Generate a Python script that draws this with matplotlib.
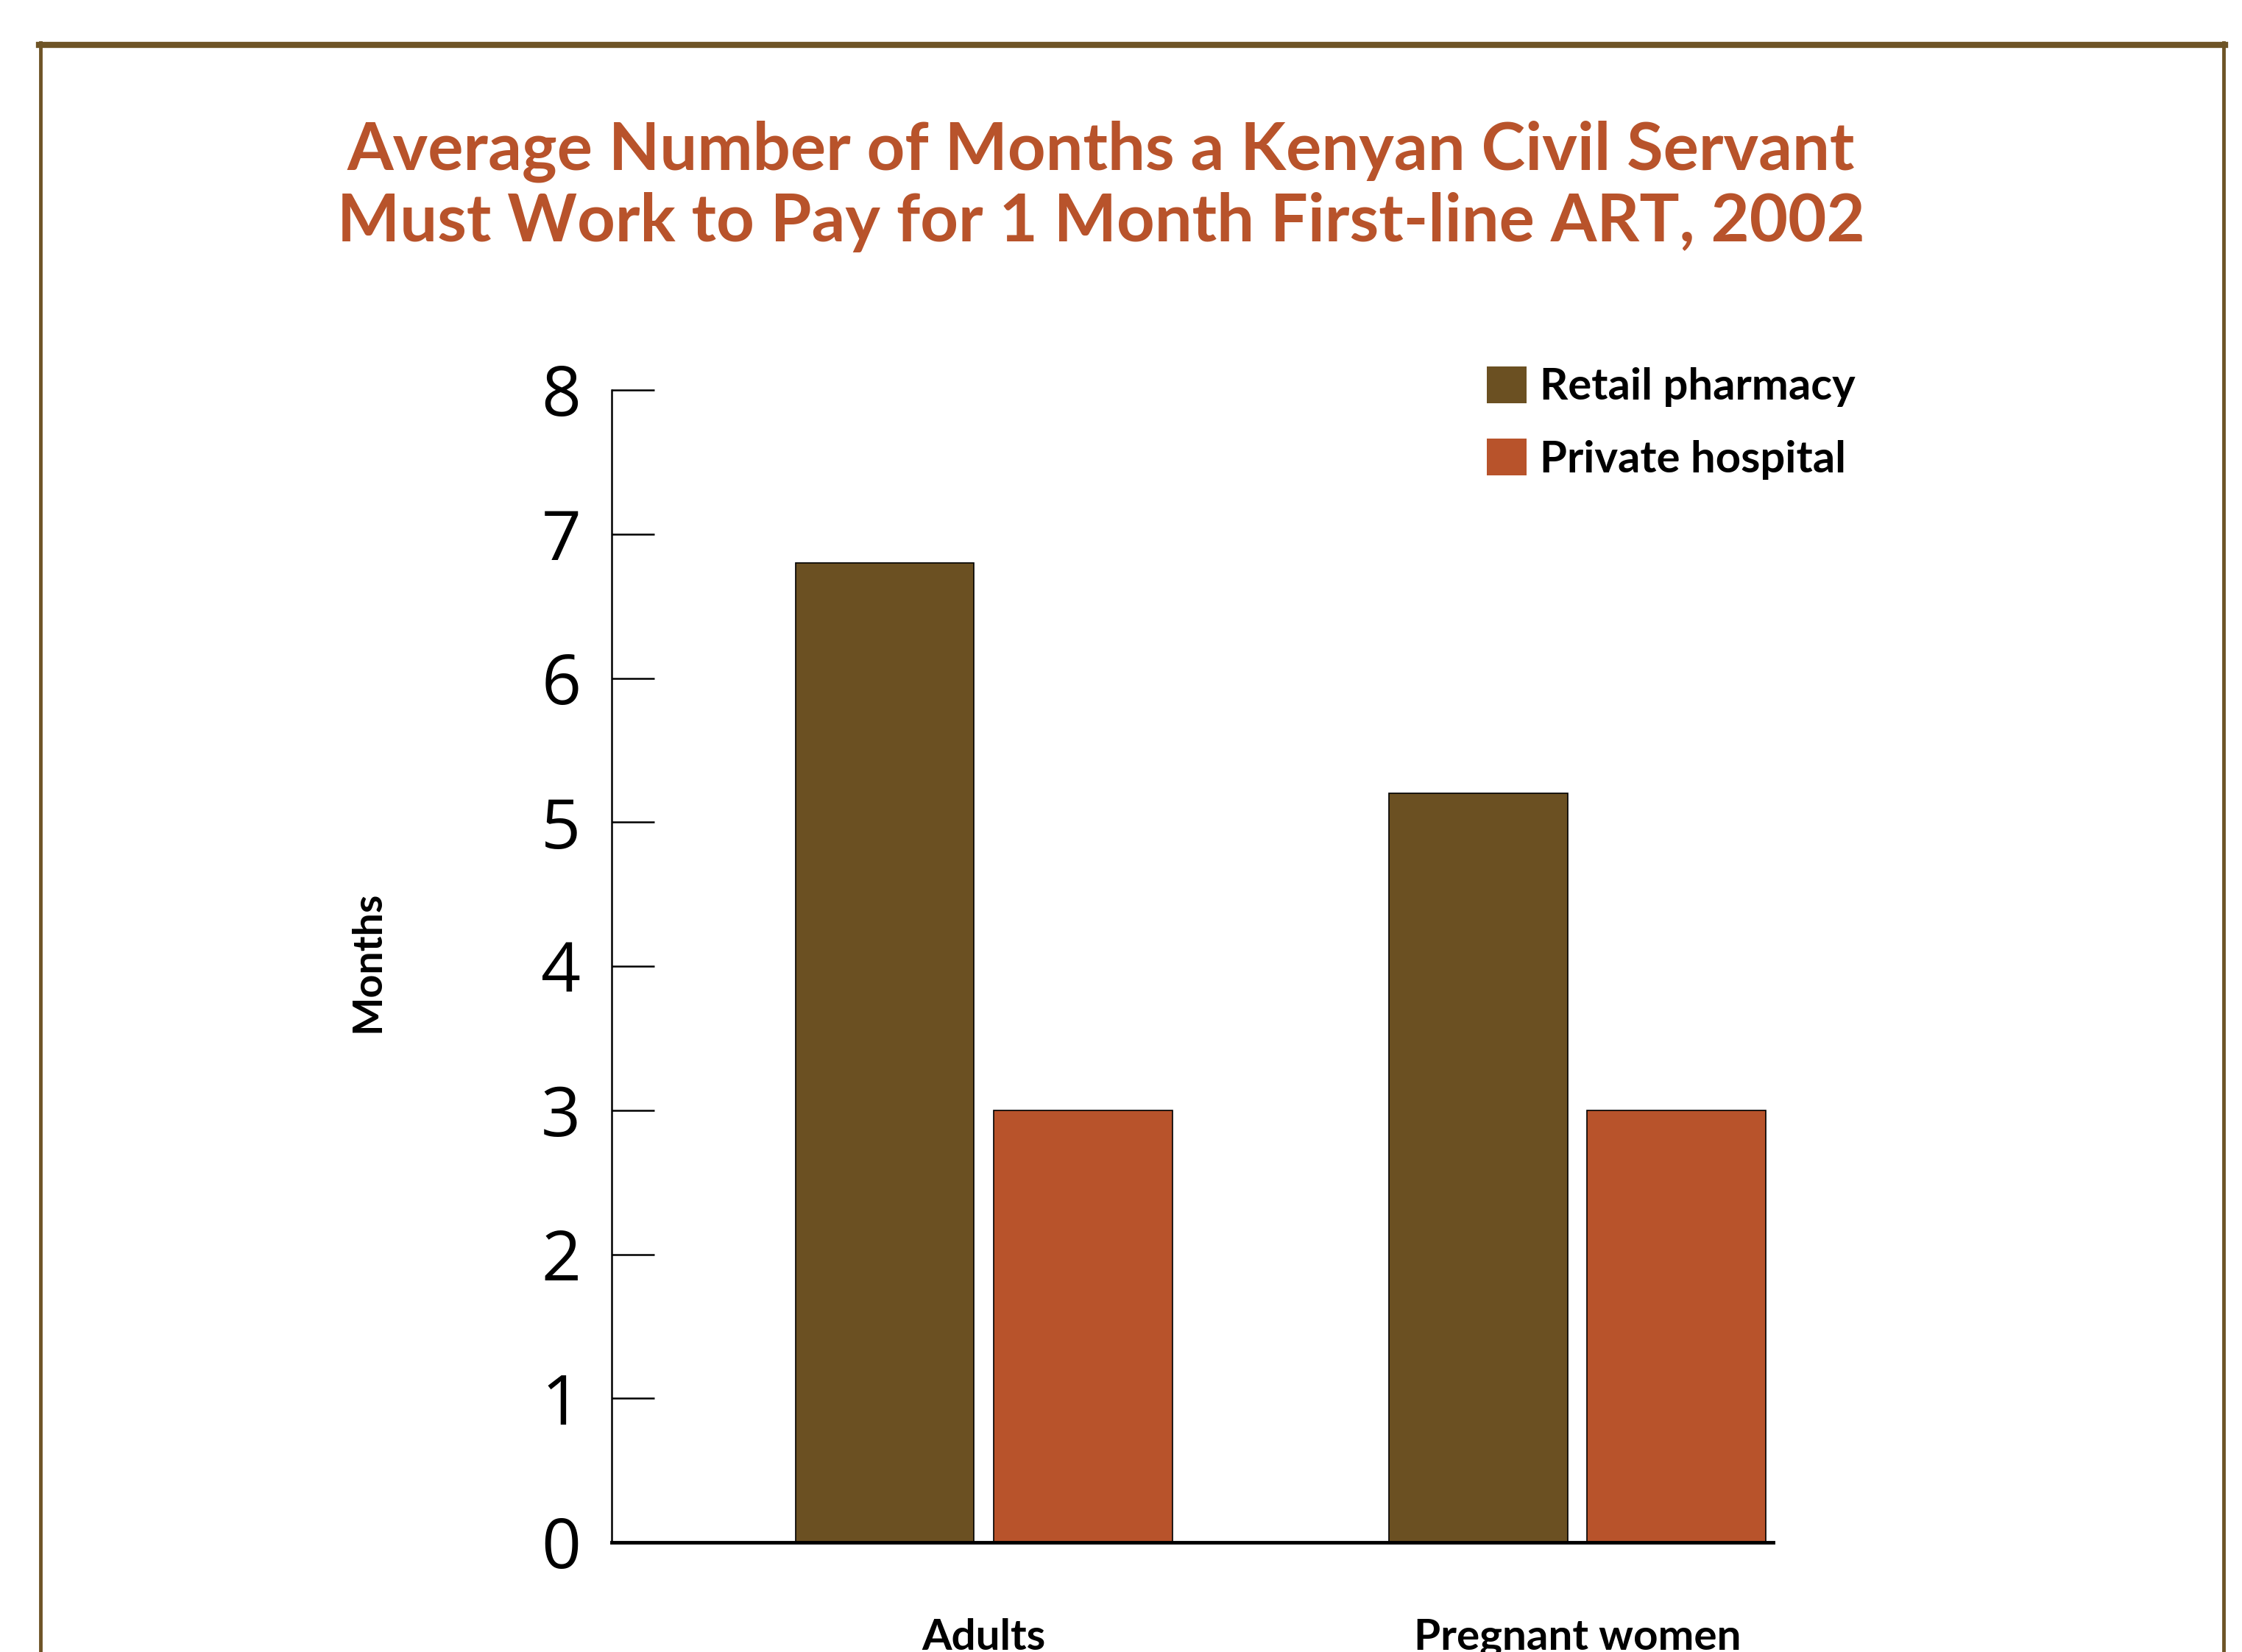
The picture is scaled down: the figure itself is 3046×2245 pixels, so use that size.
import matplotlib
matplotlib.use("Agg")
import matplotlib.pyplot as plt
import numpy as np
from matplotlib.lines import Line2D

categories = ["Adults", "Pregnant women"]
series_names = ["Retail pharmacy", "Private hospital"]
retail = [6.8, 5.2]
private = [3.0, 3.0]
yticks = [0, 1, 2, 3, 4, 5, 6, 7, 8]
title = "Average Number of Months a Kenyan Civil Servant\nMust Work to Pay for 1 Month First-line ART, 2002"

C_RETAIL = "#6B5022"
C_PRIVATE = "#B8532B"
C_BORDER = "#6E5426"
C_TITLE = "#B8532B"

W, H = 3046, 2245
fig = plt.figure(figsize=(W / 100, H / 100), dpi=100)
fig.patch.set_facecolor("white")

# frame border
fig.add_artist(Line2D([53 / W, 3023 / W], [1 - 61 / H, 1 - 61 / H], color=C_BORDER, lw=6, transform=fig.transFigure))
fig.add_artist(Line2D([55.5 / W, 55.5 / W], [1 - 58 / H, -0.01], color=C_BORDER, lw=3.5, transform=fig.transFigure))
fig.add_artist(Line2D([3021 / W, 3021 / W], [1 - 58 / H, -0.01], color=C_BORDER, lw=3.5, transform=fig.transFigure))

fig.text(1496 / W, 1 - 253 / H, title, ha="center", va="center", color=C_TITLE,
         fontsize=65, fontweight="bold", family="Lato", linespacing=1.2)

left, right = 831 / W, 2409 / W
bottom, top = 1 - 2096 / H, 1 - 530 / H
ax = fig.add_axes([left, bottom, right - left, top - bottom])

x = np.arange(len(categories))
bw = 0.301
off = 0.167
b1 = ax.bar(x - off, retail, bw, color=C_RETAIL, edgecolor="black", linewidth=1.2, label=series_names[0], zorder=2)
b2 = ax.bar(x + off, private, bw, color=C_PRIVATE, edgecolor="black", linewidth=1.2, label=series_names[1], zorder=2)

ax.set_xlim(-0.627, 1.330)
ax.set_ylim(0, 8)
ax.set_yticks(yticks)
ax.set_yticklabels([str(v) for v in yticks], fontsize=68, family="Open Sans")
ax.tick_params(axis="y", direction="in", length=42, width=1.8, pad=30, colors="black")
ax.set_xticks([])
for s in ["top", "right"]:
    ax.spines[s].set_visible(False)
ax.spines["left"].set_linewidth(1.8)
ax.spines["bottom"].set_linewidth(3.5)
ax.spines["bottom"].set_zorder(3)

for xi, lab in zip(x, categories):
    ax.annotate(lab, xy=(xi, 0), xycoords=("data", "axes fraction"), xytext=(0, -74),
                textcoords="offset points", ha="center", va="top", fontsize=42,
                fontweight="bold", family="Lato", annotation_clip=False)

fig.text(500 / W, 1 - 1307 / H, "Months", rotation=90, ha="center", va="center",
         fontsize=40, fontweight="bold", family="Lato")

leg = fig.legend(handles=[b1, b2], labels=series_names, loc="upper left",
                 bbox_to_anchor=(2020 / W, 1 - 498 / H), frameon=False, borderpad=0,
                 prop={"family": "Lato", "weight": "bold", "size": 43},
                 handlelength=0.9, handleheight=0.9, handletextpad=0.3, labelspacing=0.72,
                 borderaxespad=0)
for h in leg.legend_handles:
    h.set_edgecolor("none")

fig.savefig("out.png", dpi=100, facecolor="white")
